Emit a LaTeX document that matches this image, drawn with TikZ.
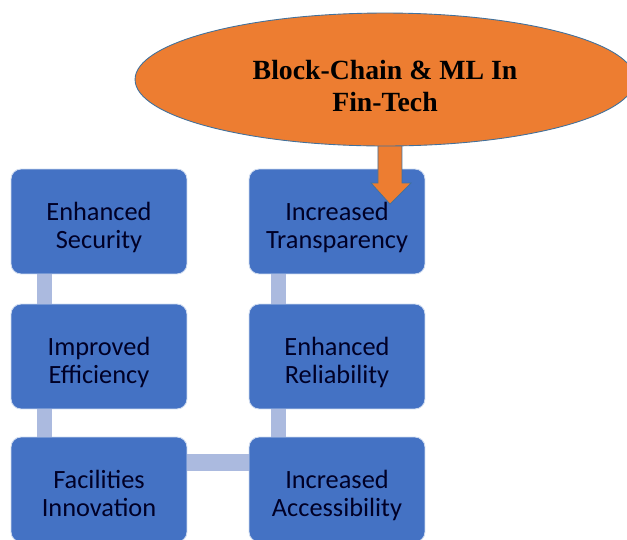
\documentclass[tikz,border=0pt]{standalone}
\usepackage{fontspec}
\setmainfont{Liberation Serif}
\newfontfamily\boxfont{Carlito}
\usetikzlibrary{shapes.geometric}
\definecolor{hubfill}{HTML}{ED7D31}
\definecolor{boxfill}{HTML}{4472C4}
\definecolor{linkfill}{HTML}{ABBADF}
\definecolor{rimblue}{HTML}{41719C}
\newcommand\boxlines[2]{\raisebox{0pt}[\dimexpr\height+8pt\relax][\depth]{\begin{tabular}{@{}c@{}}#1\\#2\end{tabular}}}
\tikzset{
  benefit/.style={rectangle, rounded corners=0.2cm, fill=boxfill, draw=white!75!boxfill,
    line width=0.5pt, minimum width=3.52cm, minimum height=2.1cm,
    text=black!85!blue, font=\boxfont\fontsize{15}{16}\selectfont},
  hub/.style={ellipse, fill=hubfill, draw=rimblue, line width=0.5pt, inner sep=0pt,
    minimum width=10cm, minimum height=2.66cm},
  hubtext/.style={align=center, font=\bfseries\fontsize{15.8}{18.5}\selectfont}
}
\begin{document}
\begin{tikzpicture}[x=0.02cm,y=-0.02cm]
    \useasboundingbox (0,0) rectangle (627,539);
    \clip (0,0) rectangle (627,539);
    % benefit boxes
    \node[benefit] (sec) at (99,221.5) {\boxlines{Enhanced}{Security}};
    \node[benefit] (trans) at (337,221.5) {\boxlines{Increased}{Transparency}};
    \node[benefit] (eff) at (99,356.5) {\boxlines{Improved}{Efficiency}};
    \node[benefit] (rel) at (337,356.5) {\boxlines{Enhanced}{Reliability}};
    \node[benefit] (fac) at (99,489.5) {\boxlines{Facilities}{Innovation}};
    \node[benefit] (acc) at (337,489.5) {\boxlines{Increased}{Accessibility}};
    % links between boxes
    \draw[draw=linkfill, line width=0.3cm] ([xshift=0.67cm]sec.south west) -- ([xshift=0.67cm]eff.north west);
    \draw[draw=linkfill, line width=0.3cm] ([xshift=0.67cm]eff.south west) -- ([xshift=0.67cm]fac.north west);
    \draw[draw=linkfill, line width=0.3cm] ([xshift=0.6cm]trans.south west) -- ([xshift=0.6cm]rel.north west);
    \draw[draw=linkfill, line width=0.3cm] ([xshift=0.6cm]rel.south west) -- ([xshift=0.6cm]acc.north west);
    \draw[draw=linkfill, line width=0.34cm] ([yshift=-0.51cm]fac.north east) -- ([yshift=-0.51cm]acc.north west);
    % block arrow into the top right box
    \coordinate (tip) at (390,204);
    \filldraw[fill=hubfill, draw=rimblue, line width=0.4pt] (tip) -- ++(-19,-21) -- ++(7,0)
        -- ++(0,-45) -- ++(24,0) -- ++(0,45) -- ++(9,0) -- cycle;
    % central topic
    \node[hub] (topic) at (385,79.5) {};
    \node[hubtext] (topiclabel) at ([yshift=-0.13cm]topic.center) {Block-Chain \& ML In\\Fin-Tech};
\end{tikzpicture}
\end{document}
